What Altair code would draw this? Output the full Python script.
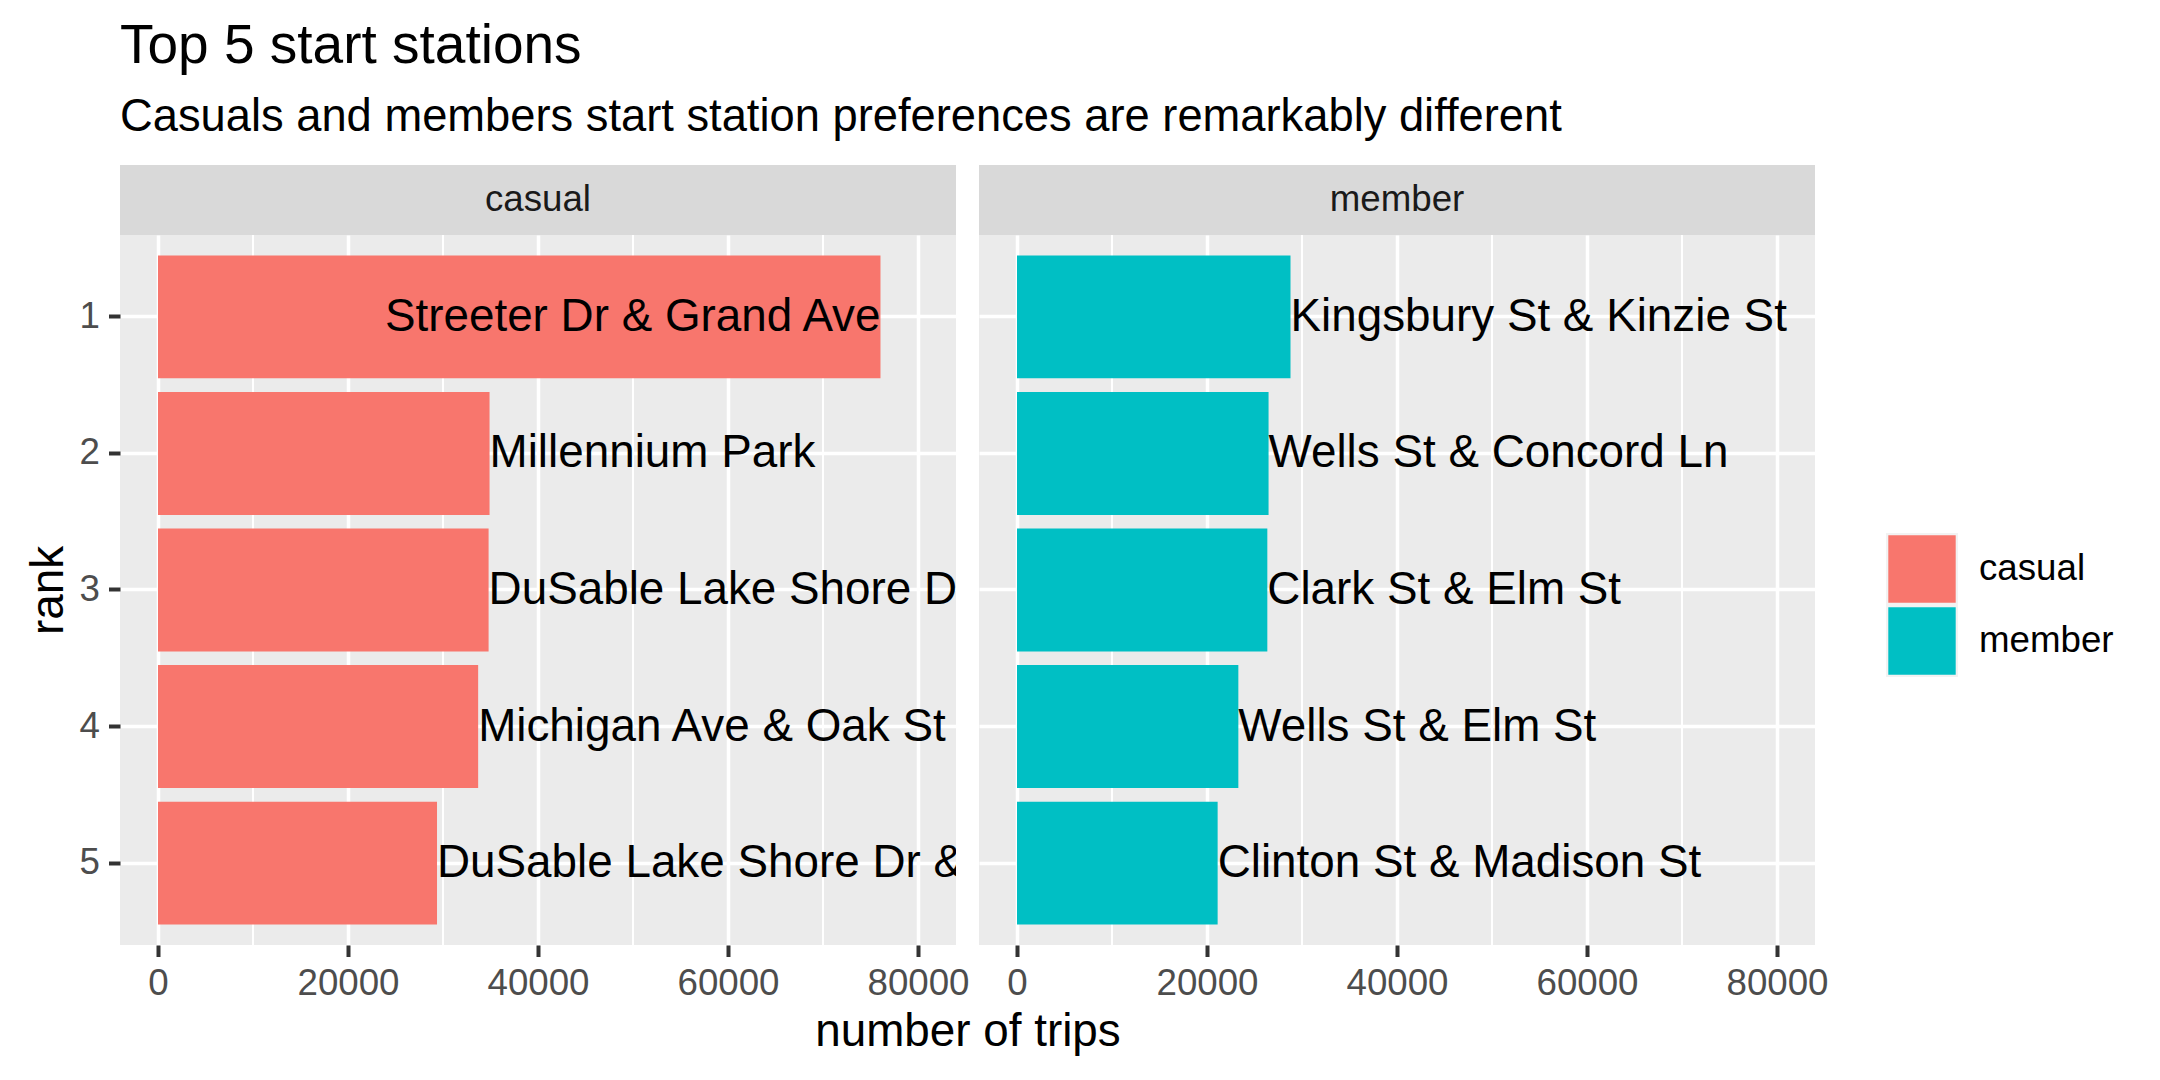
import altair as alt
import pandas as pd

# ---- data ----
ranks = [1, 2, 3, 4, 5]
casual_stations = [
    "Streeter Dr & Grand Ave",
    "Millennium Park",
    "DuSable Lake Shore Dr & Monroe St",
    "Michigan Ave & Oak St",
    "DuSable Lake Shore Dr & North Blvd",
]
casual_trips = [76050, 34900, 34800, 33700, 29370]
member_stations = [
    "Kingsbury St & Kinzie St",
    "Wells St & Concord Ln",
    "Clark St & Elm St",
    "Wells St & Elm St",
    "Clinton St & Madison St",
]
member_trips = [28790, 26480, 26350, 23300, 21120]
rider_types = ["casual", "member"]
fill_colors = ["#F8766D", "#00BFC4"]
x_breaks = [0, 20000, 40000, 60000, 80000]
x_minor_breaks = [10000, 30000, 50000, 70000]
x_limits = [-4000, 84000]

FONT = "Liberation Sans"
PW, PH = 836, 710
STRIP_H = 70
GAP = 23


def panel(kind, stations, trips, first):
    df = pd.DataFrame({"rank": ranks, "station": stations, "trips": trips, "type": kind})
    xscale = alt.Scale(domain=x_limits, nice=False, zero=False)
    yscale = alt.Scale(domain=ranks, paddingInner=0.1, paddingOuter=0.15)
    if first:
        xaxis = alt.Axis(values=x_breaks, format="d", title="number of trips",
                         titleX=(2 * PW + GAP) / 2, titleAnchor="middle", titleAlign="center")
        yaxis = alt.Axis(title="rank", grid=True)
    else:
        xaxis = alt.Axis(values=x_breaks, format="d", title=None)
        yaxis = alt.Axis(title=None, labels=False, ticks=False, grid=True)

    base = alt.Chart(df)
    minor = alt.Chart(pd.DataFrame({"m": x_minor_breaks})).mark_rule(
        color="white", strokeWidth=2
    ).encode(x=alt.X("m:Q", scale=xscale, axis=xaxis))

    bars = base.mark_bar().encode(
        y=alt.Y("rank:O", scale=yscale, axis=yaxis),
        x=alt.X("trips:Q", scale=xscale, axis=xaxis),
        x2=alt.datum(0),
        color=alt.Color(
            "type:N",
            scale=alt.Scale(domain=rider_types, range=fill_colors),
            legend=alt.Legend(
                title=None, orient="none", legendX=1766, legendY=298,
                symbolType="square", symbolSize=4858, symbolStrokeColor="#F2F2F2",
                symbolStrokeWidth=2.3, symbolOpacity=1, labelFont=FONT, labelFontSize=36.7,
                labelColor="black", rowPadding=0, clipHeight=72, labelOffset=21,
            ),
        ),
    )
    mid = (x_limits[0] + x_limits[1]) / 2
    txt_left = base.transform_filter(alt.datum.trips <= mid).mark_text(
        align="left", baseline="middle", fontSize=45.8, font=FONT, color="black", clip=True
    ).encode(
        y=alt.Y("rank:O", scale=yscale, axis=yaxis),
        x=alt.X("trips:Q", scale=xscale, axis=xaxis),
        text="station:N",
    )
    txt_right = base.transform_filter(alt.datum.trips > mid).mark_text(
        align="right", baseline="middle", fontSize=45.8, font=FONT, color="black", clip=True
    ).encode(
        y=alt.Y("rank:O", scale=yscale, axis=yaxis),
        x=alt.X("trips:Q", scale=xscale, axis=xaxis),
        text="station:N",
    )
    strip_df = pd.DataFrame({"type": [kind]})
    strip = alt.Chart(strip_df).mark_rect(color="#D9D9D9").encode(
        x=alt.value(0), x2=alt.value(PW), y=alt.value(-STRIP_H), y2=alt.value(0)
    )
    strip_txt = alt.Chart(strip_df).mark_text(
        font=FONT, fontSize=36.7, color="#1A1A1A", baseline="middle", align="center"
    ).encode(x=alt.value(PW / 2), y=alt.value(-STRIP_H / 2), text="type:N")

    return alt.layer(minor, bars, txt_left, txt_right, strip, strip_txt).properties(
        width=PW, height=PH
    )


left = panel("casual", casual_stations, casual_trips, True)
right = panel("member", member_stations, member_trips, False)

chart = alt.hconcat(left, right, spacing=GAP, bounds="flush").properties(
    title=alt.TitleParams(
        text="Top 5 start stations",
        subtitle="Casuals and members start station preferences are remarkably different",
        anchor="start", frame="group", font=FONT, fontSize=55, fontWeight="normal",
        color="black", subtitleFont=FONT, subtitleFontSize=45.3, subtitleColor="black",
        subtitlePadding=20, offset=24,
    ),
    padding={"left": 25, "top": 18, "right": 10, "bottom": 10},
    background="white",
).configure_view(
    fill="#EBEBEB", stroke=None
).configure_axis(
    labelFont=FONT, labelFontSize=36.7, labelColor="#4D4D4D", titleFont=FONT,
    titleFontSize=45.8, titleColor="black", titleFontWeight="normal",
    tickColor="#333333", tickSize=11.5, tickWidth=4, domain=False,
    gridColor="white", gridWidth=3.5, labelPadding=9, titlePadding=7,
).configure_axisY(labelAngle=0)

chart.save("out.html", embed_options={"renderer": "svg", "actions": False})
